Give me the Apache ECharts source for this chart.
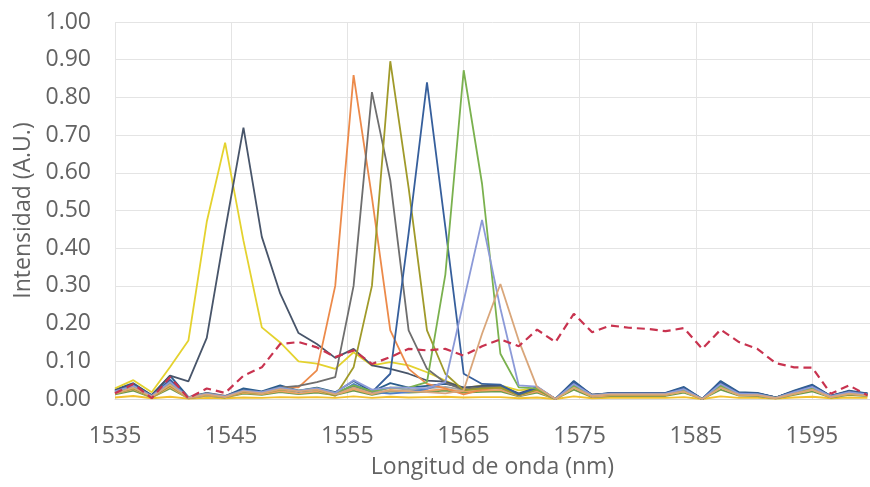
<!DOCTYPE html>
<html>
<head>
<meta charset="utf-8">
<script src="https://cdn.jsdelivr.net/npm/echarts@6/dist/echarts.min.js"></script>
<style>
html,body{margin:0;padding:0;background:#fff;}
#chart{width:870px;height:487px;}
</style>
</head>
<body>
<div id="chart"></div>
<script>
// wavelength samples (nm)
const wavelengths = [1535.00,1536.58,1538.16,1539.74,1541.32,1542.90,1544.48,1546.06,1547.64,1549.22,1550.80,1552.38,1553.96,1555.54,1557.12,1558.70,1560.28,1561.86,1563.44,1565.02,1566.60,1568.18,1569.76,1571.34,1572.92,1574.50,1576.08,1577.66,1579.24,1580.82,1582.40,1583.98,1585.56,1587.14,1588.72,1590.30,1591.88,1593.46,1595.04,1596.62,1598.20,1599.78];

// base-level traces
const baseSteel  = [0.025,0.042,0.010,0.062,0.005,0.016,0.008,0.028,0.020,0.036,0.022,0.030,0.018,0.048,0.020,0.042,0.030,0.035,0.040,0.030,0.033,0.036,0.012,0.032,0.000,0.048,0.010,0.016,0.016,0.016,0.016,0.032,0.000,0.048,0.018,0.016,0.004,0.022,0.038,0.008,0.022,0.015];
const baseBlue   = [0.022,0.038,0.008,0.052,0.004,0.014,0.007,0.024,0.018,0.030,0.020,0.027,0.010,0.040,0.018,0.014,0.018,0.027,0.045,0.028,0.030,0.033,0.011,0.029,0.000,0.044,0.009,0.015,0.015,0.015,0.015,0.029,0.000,0.044,0.016,0.015,0.004,0.020,0.035,0.007,0.020,0.014];
const baseGray   = [0.018,0.030,0.006,0.040,0.003,0.012,0.006,0.020,0.016,0.026,0.018,0.024,0.014,0.032,0.016,0.030,0.024,0.028,0.032,0.024,0.027,0.029,0.009,0.025,0.000,0.036,0.008,0.012,0.012,0.012,0.012,0.024,0.000,0.036,0.013,0.012,0.003,0.016,0.029,0.006,0.016,0.011];
const baseOrange = [0.014,0.026,0.005,0.032,0.002,0.010,0.005,0.016,0.013,0.021,0.015,0.020,0.011,0.026,0.013,0.024,0.020,0.022,0.026,0.020,0.022,0.024,0.008,0.020,0.000,0.030,0.006,0.010,0.010,0.010,0.010,0.020,0.000,0.030,0.010,0.010,0.002,0.013,0.024,0.005,0.013,0.009];
const baseGreen  = [0.012,0.022,0.004,0.028,0.002,0.009,0.004,0.014,0.011,0.018,0.013,0.017,0.010,0.022,0.011,0.020,0.017,0.019,0.022,0.017,0.019,0.020,0.007,0.017,0.000,0.025,0.005,0.008,0.008,0.008,0.008,0.017,0.000,0.025,0.009,0.008,0.002,0.011,0.020,0.004,0.011,0.008];
const baseGold   = [0.004,0.008,0.002,0.006,0.001,0.003,0.002,0.004,0.003,0.005,0.004,0.005,0.003,0.007,0.003,0.006,0.004,0.005,0.006,0.004,0.005,0.005,0.002,0.004,0.000,0.007,0.002,0.003,0.003,0.003,0.003,0.005,0.000,0.007,0.003,0.003,0.001,0.004,0.006,0.002,0.004,0.003];

// peaked traces
const peakYellow = [0.028,0.050,0.018,0.085,0.155,0.470,0.680,0.420,0.190,0.150,0.100,0.094,0.080,0.124,0.089,0.098,0.089,0.071,0.049,0.028,0.036,0.036,0.023,0.028,0.000,0.030,0.010,0.012,0.012,0.012,0.012,0.020,0.000,0.030,0.012,0.012,0.004,0.015,0.025,0.006,0.015,0.010];
const peakSlate  = [0.023,0.040,0.010,0.062,0.047,0.162,0.447,0.720,0.430,0.280,0.175,0.146,0.109,0.133,0.089,0.080,0.067,0.049,0.046,0.030,0.035,0.035,0.015,0.030,0.000,0.040,0.012,0.015,0.015,0.015,0.015,0.028,0.000,0.040,0.015,0.014,0.004,0.020,0.033,0.008,0.020,0.014];
const peakOrange = [0.020,0.035,0.008,0.045,0.004,0.015,0.008,0.022,0.018,0.031,0.031,0.076,0.300,0.859,0.535,0.182,0.080,0.040,0.028,0.012,0.025,0.030,0.010,0.025,0.000,0.035,0.010,0.012,0.012,0.012,0.012,0.022,0.000,0.035,0.012,0.012,0.003,0.016,0.028,0.006,0.016,0.010];
const peakGray   = [0.018,0.030,0.006,0.040,0.004,0.014,0.006,0.020,0.018,0.030,0.035,0.045,0.058,0.300,0.814,0.580,0.182,0.080,0.043,0.025,0.030,0.032,0.010,0.026,0.000,0.036,0.010,0.013,0.013,0.013,0.013,0.024,0.000,0.036,0.013,0.012,0.003,0.017,0.030,0.006,0.017,0.011];
const peakOlive  = [0.015,0.028,0.005,0.035,0.003,0.012,0.005,0.018,0.015,0.025,0.020,0.025,0.008,0.084,0.300,0.896,0.560,0.182,0.067,0.023,0.028,0.030,0.010,0.025,0.000,0.032,0.009,0.012,0.012,0.012,0.012,0.022,0.000,0.032,0.012,0.011,0.003,0.015,0.027,0.006,0.015,0.010];
const peakBlue   = [0.020,0.038,0.008,0.050,0.004,0.015,0.007,0.025,0.018,0.032,0.020,0.028,0.015,0.035,0.018,0.067,0.440,0.840,0.456,0.067,0.040,0.038,0.012,0.030,0.000,0.045,0.010,0.015,0.015,0.015,0.015,0.030,0.000,0.045,0.016,0.015,0.004,0.020,0.036,0.008,0.020,0.014];
const peakGreen  = [0.018,0.032,0.007,0.042,0.004,0.014,0.006,0.022,0.017,0.030,0.022,0.028,0.016,0.036,0.020,0.030,0.030,0.045,0.330,0.872,0.571,0.120,0.031,0.028,0.000,0.035,0.010,0.013,0.013,0.013,0.013,0.025,0.000,0.035,0.013,0.012,0.003,0.017,0.030,0.007,0.017,0.011];
const peakLilac  = [0.020,0.035,0.008,0.045,0.004,0.014,0.007,0.022,0.018,0.030,0.022,0.028,0.016,0.050,0.025,0.030,0.030,0.028,0.045,0.260,0.475,0.240,0.036,0.033,0.000,0.040,0.010,0.014,0.014,0.014,0.014,0.026,0.000,0.040,0.014,0.013,0.003,0.018,0.032,0.007,0.018,0.012];
const peakTan    = [0.015,0.030,0.006,0.038,0.003,0.012,0.005,0.020,0.015,0.026,0.020,0.025,0.012,0.030,0.015,0.022,0.020,0.018,0.015,0.023,0.173,0.305,0.155,0.031,0.000,0.030,0.008,0.012,0.012,0.012,0.012,0.020,0.000,0.030,0.011,0.010,0.002,0.014,0.025,0.005,0.014,0.009];

// broad dashed trace
const broadRed   = [0.015,0.040,0.002,0.058,0.002,0.028,0.016,0.062,0.084,0.146,0.151,0.137,0.111,0.129,0.093,0.111,0.133,0.129,0.133,0.115,0.140,0.158,0.140,0.184,0.151,0.226,0.177,0.195,0.189,0.186,0.180,0.188,0.133,0.184,0.151,0.133,0.095,0.084,0.083,0.014,0.036,0.010];

const traces = [
  {name:'b1', data: baseGold,   color:'#f2c12e', dash:false},
  {name:'b2', data: baseGreen,  color:'#6d9a4a', dash:false},
  {name:'b3', data: baseOrange, color:'#f0a060', dash:false},
  {name:'b4', data: baseGray,   color:'#a5a5a5', dash:false},
  {name:'b5', data: baseBlue,   color:'#4f7fc8', dash:false},
  {name:'b6', data: baseSteel,  color:'#2a5d8c', dash:false},
  {name:'p1', data: peakYellow, color:'#e4d22e', dash:false},
  {name:'p2', data: peakSlate,  color:'#48556a', dash:false},
  {name:'p3', data: peakOrange, color:'#ec8a4a', dash:false},
  {name:'p4', data: peakGray,   color:'#6e6e6e', dash:false},
  {name:'p5', data: peakOlive,  color:'#a09a2a', dash:false},
  {name:'p6', data: peakBlue,   color:'#365f9c', dash:false},
  {name:'p7', data: peakGreen,  color:'#7ab14e', dash:false},
  {name:'p8', data: peakLilac,  color:'#8c9ad8', dash:false},
  {name:'p9', data: peakTan,    color:'#d9a67a', dash:false},
  {name:'r1', data: broadRed,   color:'#c8334f', dash:true}
];

const chart = echarts.init(document.getElementById('chart'), null, {renderer:'canvas'});
const font = '"Open Sans", sans-serif';
chart.setOption({
  backgroundColor:'#ffffff',
  animation:false,
  grid:{left:115, right:-6, top:22, bottom:88, containLabel:false},
  xAxis:{
    type:'value', min:1535, max:1600, interval:10,
    name:'Longitud de onda (nm)', nameLocation:'middle', nameGap:57,
    nameTextStyle:{fontFamily:font, fontSize:23, color:'#636363'},
    axisLine:{show:true, lineStyle:{color:'#d9d9d9', width:1}},
    axisTick:{show:false},
    axisLabel:{fontFamily:font, fontSize:23, color:'#636363', margin:26, showMaxLabel:false,
      formatter: v => String(Math.round(v))},
    splitLine:{show:true, lineStyle:{color:'#e4e4e4', width:1}}
  },
  yAxis:{
    type:'value', min:0, max:1, interval:0.1,
    name:'Intensidad (A.U.)', nameLocation:'middle', nameGap:76,
    nameTextStyle:{fontFamily:font, fontSize:23, color:'#636363'},
    axisLine:{show:false}, axisTick:{show:false},
    axisLabel:{fontFamily:font, fontSize:23, color:'#636363', margin:24,
      formatter: v => v.toFixed(2)},
    splitLine:{show:true, lineStyle:{color:'#e4e4e4', width:1}}
  },
  series: traces.map(t => ({
    name:t.name, type:'line', showSymbol:false, symbol:'none',
    data: wavelengths.map((x,i)=>[x, t.data[i]]),
    lineStyle:{color:t.color, width: t.dash ? 2.2 : 1.8, type: t.dash ? [8,5] : 'solid'},
    itemStyle:{color:t.color},
    clip:true
  }))
});
</script>
</body>
</html>
